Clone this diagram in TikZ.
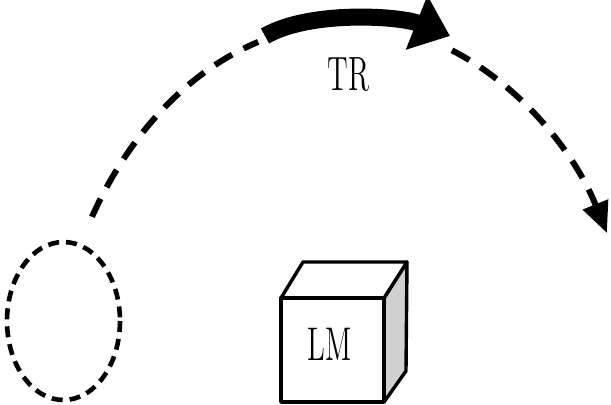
\documentclass[tikz,border=0pt]{standalone}
\usepackage{fontspec}
\usepackage{graphicx}
\usetikzlibrary{arrows.meta}
\begin{document}
\begin{tikzpicture}[x=0.5pt,y=-0.5pt,
  orbit/.style={line width=3pt, dash pattern=on 10pt off 6.5pt},
  bigarrow/.style={line width=8.5pt, -{Triangle[length=18pt,width=28pt]}},
  ghost/.style={line width=2.3pt, dash pattern=on 5.5pt off 3.5pt},
  cubeedge/.style={line width=1.7pt, line join=round},
  lbl/.style={inner sep=0pt, font=\fontsize{14.6}{17}\selectfont}]
\useasboundingbox (0,0) rectangle (611,404);

% dashed outline of the start position
\draw[ghost] (63.5,321) ellipse[x radius=56.5, y radius=79];

% dashed trajectory, left part
\draw[orbit] (346,424) ++(211.2:297 and 400)
  arc[start angle=211.2, end angle=252.8, x radius=297, y radius=400];
% dashed trajectory, right part with tip
\draw[orbit, -{Triangle[length=15.5pt,width=13pt]}] (346,424) ++(290.9:297 and 400)
  arc[start angle=290.9, end angle=331.5, x radius=297, y radius=400];

% bold arrow along the top
\coordinate (tA) at (265,36);
\coordinate (tB) at (450,36);
\draw[bigarrow] (tA) .. controls (310,10) and (400,16) .. (tB);
\node[lbl] (tr) at (348.5,75) {\scalebox{1}[1.65]{TR}};

% cube
\coordinate (f1) at (281,298);
\coordinate (f2) at (384,298);
\coordinate (f3) at (384,402);
\coordinate (f4) at (281,402);
\coordinate (b1) at (303,262);
\coordinate (b2) at (407,262);
\coordinate (b3) at (406,371);
\filldraw[cubeedge, fill=gray!37] (f2) -- (b2) -- (b3) -- (f3) -- cycle;
\filldraw[cubeedge, fill=white] (f1) -- (b1) -- (b2) -- (f2) -- cycle;
\filldraw[cubeedge, fill=white] (f1) rectangle (f3);
\node[lbl] (lm) at (329.5,344) {\scalebox{1}[1.62]{LM}};
\end{tikzpicture}
\end{document}
